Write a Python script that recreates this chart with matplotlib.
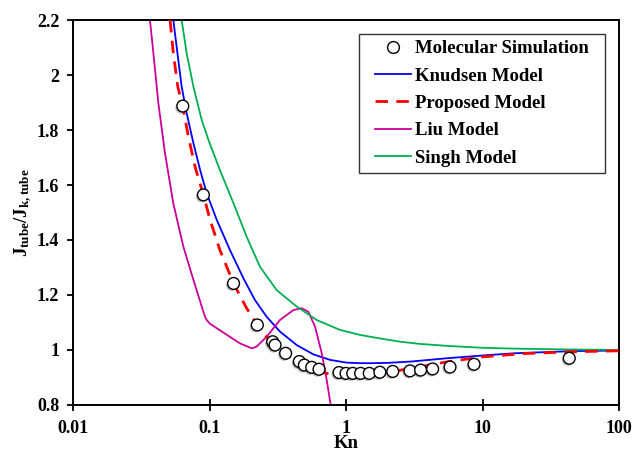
import matplotlib
matplotlib.use("Agg")
import matplotlib.pyplot as plt
import matplotlib.patheffects as pe
from matplotlib.patches import Rectangle
from matplotlib.ticker import FixedLocator, FixedFormatter

plt.rcParams['font.family'] = ['Liberation Serif', 'DejaVu Serif']
plt.rcParams['font.weight'] = 'bold'
plt.rcParams['mathtext.fontset'] = 'custom'
plt.rcParams['mathtext.rm'] = 'Liberation Serif:bold'
plt.rcParams['mathtext.bf'] = 'Liberation Serif:bold'
plt.rcParams['mathtext.it'] = 'Liberation Serif:bold'

# molecular simulation results
kn_sim = [0.0637, 0.0902, 0.150, 0.224, 0.290, 0.302, 0.361, 0.455, 0.495,
          0.561, 0.634, 0.889, 1.0, 1.12, 1.28, 1.48, 1.77, 2.20, 2.94,
          3.52, 4.31, 5.78, 8.67, 43.2]
j_sim = [1.887, 1.564, 1.242, 1.091, 1.030, 1.018, 0.988, 0.958, 0.945,
         0.937, 0.930, 0.918, 0.915, 0.915, 0.915, 0.915, 0.919, 0.922, 0.924,
         0.927, 0.931, 0.938, 0.948, 0.970]

# Knudsen model
kn_knudsen = [0.0543, 0.0582, 0.0625, 0.068, 0.0762, 0.0853, 0.0953, 0.113,
              0.141, 0.177, 0.215, 0.262, 0.328, 0.435, 0.577, 0.764, 1.01,
              1.26, 1.5, 2.0, 3.0, 5.5, 10.0, 17.0, 46.0, 100.0]
j_knudsen = [2.20, 2.079, 1.958, 1.861, 1.752, 1.655, 1.570, 1.473,
             1.364, 1.261, 1.182, 1.121, 1.067, 1.018, 0.984, 0.964, 0.954,
             0.952, 0.952, 0.953, 0.958, 0.970, 0.980, 0.988, 0.996, 0.998]

# proposed model
kn_proposed = [0.0514, 0.0543, 0.0585, 0.0637, 0.070, 0.0783, 0.0902, 0.101,
               0.119, 0.150, 0.187, 0.224, 0.262, 0.302, 0.367, 0.460, 0.577,
               0.764, 1.01, 1.5, 2.2, 3.0, 5.5, 10.0, 20.0, 50.0, 100.0]
j_proposed = [2.20, 2.079, 1.958, 1.885, 1.776, 1.667, 1.564, 1.473,
              1.364, 1.242, 1.152, 1.091, 1.048, 1.018, 0.982, 0.952, 0.927,
              0.912, 0.909, 0.912, 0.922, 0.933, 0.957, 0.975, 0.987, 0.994,
              0.997]

# Liu model
kn_liu = [0.0366, 0.0388, 0.0422, 0.0472, 0.0543, 0.0643, 0.0762, 0.0877,
          0.0927, 0.0953, 0.101, 0.134, 0.167, 0.204, 0.221, 0.262, 0.328,
          0.411, 0.473, 0.530, 0.593, 0.664, 0.722, 0.772]
j_liu = [2.20, 2.079, 1.897, 1.715, 1.533, 1.376, 1.255, 1.158,
         1.121, 1.109, 1.095, 1.055, 1.024, 1.006, 1.012, 1.048, 1.109,
         1.145, 1.152, 1.139, 1.085, 0.988, 0.891, 0.80]

# Singh model
kn_singh = [0.0625, 0.068, 0.0762, 0.0877, 0.0982, 0.119, 0.150, 0.187,
            0.234, 0.310, 0.435, 0.610, 0.904, 1.26, 1.77, 2.5, 3.5, 5.5,
            10.0, 17.0, 41.0, 100.0]
j_singh = [2.20, 2.079, 1.958, 1.836, 1.764, 1.655, 1.533, 1.412,
           1.303, 1.218, 1.158, 1.109, 1.073, 1.055, 1.042, 1.030, 1.022,
           1.015, 1.008, 1.005, 1.002, 1.000]

fig = plt.figure(figsize=(6.44, 4.53), dpi=100)
ax = fig.add_axes([0.1134, 0.106, 0.8478, 0.8498])

shadow = [pe.SimplePatchShadow(offset=(-1.2, -1.2), shadow_rgbFace='0.5', alpha=0.5),
          pe.Normal()]

ax.plot(kn_sim, j_sim, 'o', ms=8.5, mfc='white', mec='black', mew=1.0,
        label='Molecular Simulation', zorder=5, path_effects=shadow)
ax.plot(kn_knudsen, j_knudsen, '-', color='#0000FF', lw=1.3, label='Knudsen Model')
ax.plot(kn_proposed, j_proposed, '--', color='#FF0000', lw=2.0, dashes=(4.5, 3),
        label='Proposed Model', zorder=4)
ax.plot(kn_liu, j_liu, '-', color='#CC0099', lw=1.3, label='Liu Model')
ax.plot(kn_singh, j_singh, '-', color='#00B050', lw=1.3, label='Singh Model')

ax.set_xscale('log')
ax.set_xlim(0.01, 100)
ax.set_ylim(0.8, 2.2)

xt = [0.01, 0.1, 1, 10, 100]
ax.xaxis.set_major_locator(FixedLocator(xt))
ax.xaxis.set_major_formatter(FixedFormatter(['0.01', '0.1', '1', '10', '100']))
ax.xaxis.set_minor_locator(FixedLocator([]))
yt = [0.8, 1.0, 1.2, 1.4, 1.6, 1.8, 2.0, 2.2]
ax.set_yticks(yt)
ax.set_yticklabels(['0.8', '1', '1.2', '1.4', '1.6', '1.8', '2', '2.2'])

ax.tick_params(axis='x', direction='inout', length=9, width=1.3, labelsize=13, pad=6)
ax.tick_params(axis='y', direction='out', length=4, width=1.3, labelsize=13, pad=6)
for s in ax.spines.values():
    s.set_linewidth(1.4)

ax.set_xlabel('Kn', fontsize=13.5, fontweight='bold', labelpad=-1)
ax.set_ylabel(r'$\mathbf{J_{tube}/J_{k,tube}}$', fontsize=13.5, labelpad=2)

leg = ax.legend(loc='upper right', bbox_to_anchor=(0.972, 0.987), fontsize=13.5,
                frameon=False, handlelength=1.9, handletextpad=0.2,
                borderpad=0.3, labelspacing=0.55)
leg.legend_handles[0].set_path_effects([])

# legend box, wider than the entries on both sides
fig.canvas.draw()
bb = leg.get_window_extent().transformed(fig.transFigure.inverted())
padx = 11 / fig.bbox.width
box = Rectangle((bb.x0 - padx, bb.y0), bb.width + 2 * padx, bb.height,
                transform=fig.transFigure, facecolor='white',
                edgecolor='#333333', lw=1.0, zorder=1.5)
ax.add_patch(box)

fig.savefig('out.png', dpi=100)
